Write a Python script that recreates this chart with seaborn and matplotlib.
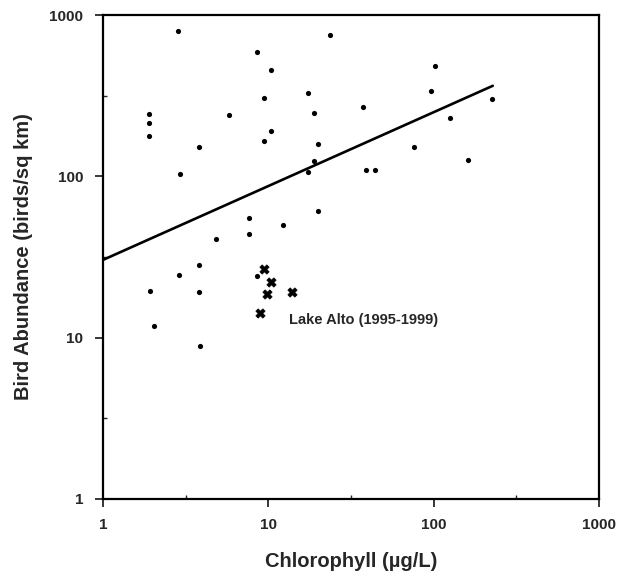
"""Bird abundance vs chlorophyll, log-log scatter with fitted line."""

import matplotlib
matplotlib.use("Agg")
import matplotlib.pyplot as plt
import numpy as np
import pandas as pd
import seaborn as sns
from matplotlib.ticker import FixedLocator, NullFormatter

# lakes (chlorophyll ug/L, birds / sq km)
chl = [2.85, 23.6, 8.51, 10.4, 9.46, 17.5, 18.8, 1.90, 1.90, 1.90,
       5.78, 3.83, 10.4, 9.46, 20.1, 19.0, 17.5, 2.91, 20.1, 7.64,
       12.3, 7.64, 4.85, 102, 96.5, 225, 37.6, 126, 76.1, 162,
       39.2, 44.2, 3.83, 2.89, 1.92, 3.83, 2.04, 3.86, 8.58]
birds = [800, 751, 589, 455, 304, 328, 246, 242, 213, 178,
         239, 153, 190, 165, 159, 124, 107, 104, 60.6, 54.8,
         49.6, 43.6, 41.0, 484, 337, 301, 271, 229, 152, 126,
         109, 109, 28.3, 24.3, 19.4, 19.2, 11.8, 8.83, 24.0]

# Lake Alto, 1995-1999
alto_chl = [9.42, 10.4, 9.86, 14.0, 8.95]
alto_birds = [26.5, 22.1, 18.5, 19.2, 14.1]

# fitted power law  birds = a * chl^b, drawn from chl = 1 to 228
fit_a = 30.3
fit_b = 0.458
fit_range = [1, 228]

major = [1, 10, 100, 1000]
major_labels = ["1", "10", "100", "1000"]

sns.set_theme(style="white")
plt.rcParams["font.family"] = ["Liberation Sans", "DejaVu Sans"]
plt.rcParams["font.weight"] = "bold"

df = pd.DataFrame({"chl": chl, "birds": birds})
alto = pd.DataFrame({"chl": alto_chl, "birds": alto_birds})
fx = np.logspace(np.log10(fit_range[0]), np.log10(fit_range[1]), 50)
fit = pd.DataFrame({"chl": fx, "birds": fit_a * fx ** fit_b})

fig = plt.figure(figsize=(6.2, 5.8), dpi=100)
ax = fig.add_axes([0.166, 0.140, 0.800, 0.834])

sns.lineplot(data=fit, x="chl", y="birds", color="black", lw=1.9, ax=ax)
sns.scatterplot(data=df, x="chl", y="birds", marker="o", s=14,
                color="black", edgecolor="black", linewidth=0, ax=ax)
sns.scatterplot(data=alto, x="chl", y="birds", marker="X", s=45,
                color="black", edgecolor="black", linewidth=0.5, ax=ax)

ax.text(13.4, 12.9, "Lake Alto (1995-1999)", fontsize=10.5,
        fontweight="bold", va="center", ha="left")

ax.set_xscale("log")
ax.set_yscale("log")
ax.set_xlim(1, 1000)
ax.set_ylim(1, 1000)

ax.xaxis.set_major_locator(FixedLocator(major))
ax.yaxis.set_major_locator(FixedLocator(major))
ax.set_xticklabels(major_labels)
ax.set_yticklabels(major_labels)
half = [10 ** (k + 0.5) for k in range(3)]
ax.xaxis.set_minor_locator(FixedLocator(half))
ax.yaxis.set_minor_locator(FixedLocator(half))
ax.xaxis.set_minor_formatter(NullFormatter())
ax.yaxis.set_minor_formatter(NullFormatter())

ax.tick_params(which="major", direction="out", length=6, width=1.3,
               labelsize=11, pad=8, bottom=True, left=True)
ax.tick_params(which="minor", direction="in", length=3, width=1.0,
               bottom=True, left=True)
for lab in ax.get_xticklabels() + ax.get_yticklabels():
    lab.set_fontweight("bold")

for sp in ax.spines.values():
    sp.set_visible(True)
    sp.set_color("black")
    sp.set_linewidth(1.6)

ax.set_xlabel("Chlorophyll (\u00b5g/L)", fontsize=14.5, fontweight="bold",
              labelpad=14)
ax.set_ylabel("Bird Abundance (birds/sq km)", fontsize=14.5,
              fontweight="bold", labelpad=12)

fig.savefig("out.png", dpi=100)
